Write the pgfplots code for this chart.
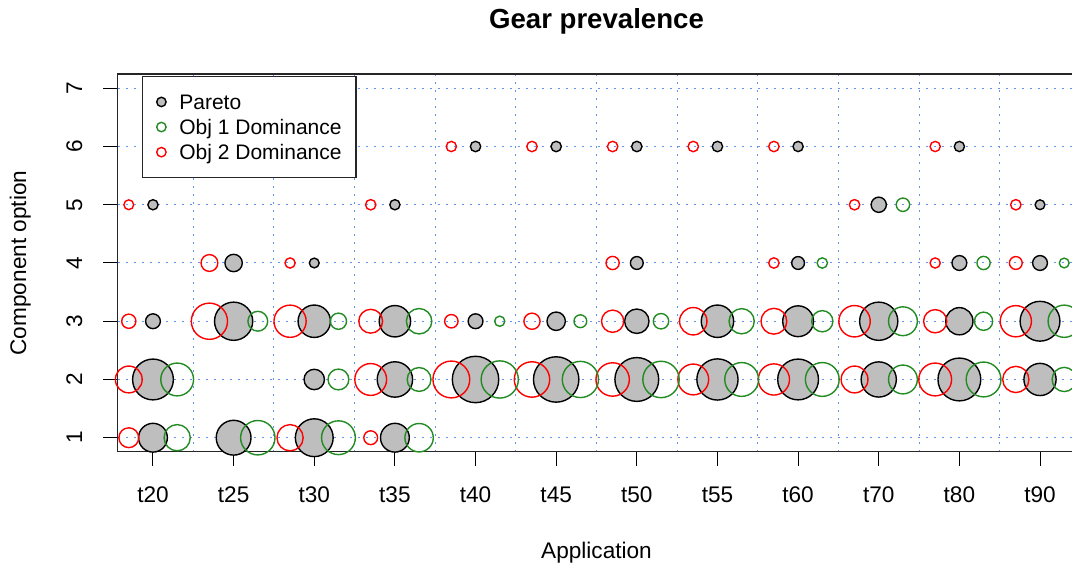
\documentclass[border=0pt]{standalone}
\usepackage{pgfplots}
\pgfplotsset{compat=1.18}
\usepackage{pgfplotstable}
\usepackage{fontspec}
\setmainfont{Liberation Sans}

\definecolor{gridblue}{RGB}{100,149,237}
\definecolor{objgreen}{RGB}{34,139,34}
\definecolor{paretogray}{RGB}{190,190,190}

% x = application index (1 = t20 ... 12 = t90), y = component option,
% r = bubble radius (px of the original chart)
\pgfplotstableread{
x y r
1 5 5.7
1 3 8
1 2 21
1 1 15
2 4 9.3
2 3 19.7
2 1 18
3 4 5.5
3 3 16.8
3 2 10.8
3 1 19.5
4 5 5.7
4 3 16.3
4 2 18.3
4 1 15
5 6 5.8
5 3 8
5 2 23.8
6 6 5.8
6 3 9.8
6 2 23.3
7 6 5.8
7 4 7
7 3 12.8
7 2 22.5
8 6 5.8
8 3 16.8
8 2 21.2
9 6 5.7
9 4 7
9 3 16
9 2 21
10 5 8.2
10 3 19.7
10 2 18.2
11 6 5.7
11 4 8
11 3 14.2
11 2 22
12 5 5.5
12 4 8
12 3 20.5
12 2 16.7
}\pareto

\pgfplotstableread{
x y r
1 5 5.5
1 3 7.7
1 2 14
1 1 10.5
2 4 9
2 3 18.7
3 4 5.7
3 3 16.7
3 1 13.7
4 5 5.8
4 3 12.5
4 2 16.5
4 1 7.5
5 6 5.7
5 3 7.3
5 2 19
6 6 5.8
6 3 8.7
6 2 18.3
7 6 5.8
7 4 7.2
7 3 11.7
7 2 17.3
8 6 5.8
8 3 14.3
8 2 16
9 6 5.8
9 4 5.8
9 3 13.5
9 2 16.2
10 5 5.8
10 3 16.3
10 2 14
11 6 5.7
11 4 5.7
11 3 12.2
11 2 17
12 5 5.8
12 4 7
12 3 16.2
12 2 13.7
}\objtwo

\pgfplotstableread{
x y r
1 2 17
1 1 13.7
2 3 10.5
2 1 17.8
3 3 8.7
3 2 11
3 1 17.5
4 3 13.3
4 2 12.5
4 1 14.8
5 3 5.7
5 2 19.2
6 3 7
6 2 18.7
7 3 8.3
7 2 18.8
8 3 13.2
8 2 17.5
9 4 5.8
9 3 11.2
9 2 17.5
10 5 7.3
10 3 15
10 2 15
11 4 7.2
11 3 9.7
11 2 18
12 4 5.5
12 3 16.7
12 2 12.7
}\objone

\begin{document}
\begin{tikzpicture}
\path[use as bounding box] (0,0) rectangle (536pt,285.5pt);
\begin{axis}[
  at={(58.75pt,59.65pt)}, anchor=south west,
  scale only axis, width=479pt, height=188.7pt,
  xmin=0.56, xmax=12.44, ymin=0.76, ymax=7.24,
  xtick={1,...,12},
  xticklabels={t20,t25,t30,t35,t40,t45,t50,t55,t60,t70,t80,t90},
  ytick={1,...,7},
  minor xtick={1.5,2.5,...,11.5},
  xminorgrids, ymajorgrids,
  grid style={gridblue, line width=0.5pt, dash pattern=on 1pt off 3pt},
  minor grid style={gridblue, line width=0.5pt, dash pattern=on 1pt off 3pt},
  major grid style={gridblue, line width=0.5pt, dash pattern=on 1pt off 3pt},
  tick align=outside, major tick length=7pt, minor tick length=0pt,
  xtick pos=left, ytick pos=left,
  tick style={black, line width=0.5pt},
  axis line style={black!85, line width=0.8pt},
  font=\fontsize{11.3}{13.5}\selectfont,
  /pgf/number format/assume math mode=true,
  xticklabel style={anchor=base},
  xticklabel shift=18.65pt,
  yticklabel style={rotate=90, anchor=base},
  yticklabel shift=10.65pt,
  every axis title shift=0pt,
  title={Gear prevalence},
  title style={at={(axis description cs:0.5,1.1219)}, anchor=base,
    font=\bfseries\fontsize{13.8}{16}\selectfont},
  xlabel={Application},
  xlabel style={at={(axis description cs:0.5,-0.2825)}, anchor=base},
  ylabel={Component option},
  ylabel style={at={(axis description cs:-0.0955,0.5)}, anchor=base},
  legend image code/.code={\draw[#1] plot coordinates {(0pt,0pt)}; \path[draw=none] (-6pt,0pt) (6pt,0pt);},
  legend cell align=left,
  legend style={at={(axis description cs:0.02526,0.9955)}, anchor=north west,
    draw=black!85, line width=0.7pt, fill=white,
    font=\fontsize{10.5}{12.6}\selectfont,
    inner xsep=3.5pt, inner ysep=7.5pt,
    row sep=2.3pt, column sep=3pt,
    nodes={inner sep=0pt, text height=9pt, text depth=1.25pt}},
  bub/.style={scatter, only marks, forget plot, point meta=y,
    scatter/use mapped color={#1},
    visualization depends on={\thisrow{r} \as \bubr},
    scatter/@pre marker code/.append style={/tikz/mark size=\bubr/2-0.3}},
]
\addplot[mark=*, bub={draw=black, fill=paretogray, line width=0.7pt}]
  table[x=x, y=y] {\pareto};
\addplot[mark=o, bub={draw=red, line width=0.7pt}]
  table[x expr=\thisrow{x}-0.3, y=y] {\objtwo};
\addplot[mark=o, bub={draw=objgreen, line width=0.7pt}]
  table[x expr=\thisrow{x}+0.3, y=y] {\objone};

\addlegendimage{only marks, mark=*, mark size=2.35pt, draw=black, fill=paretogray, line width=0.7pt}
\addlegendentry{\makebox[84.8pt][l]{Pareto}}
\addlegendimage{only marks, mark=o, mark size=2.35pt, draw=objgreen, line width=0.7pt}
\addlegendentry{\makebox[84.8pt][l]{Obj 1 Dominance}}
\addlegendimage{only marks, mark=o, mark size=2.35pt, draw=red, line width=0.7pt}
\addlegendentry{\makebox[84.8pt][l]{Obj 2 Dominance}}
\end{axis}
\end{tikzpicture}
\end{document}
